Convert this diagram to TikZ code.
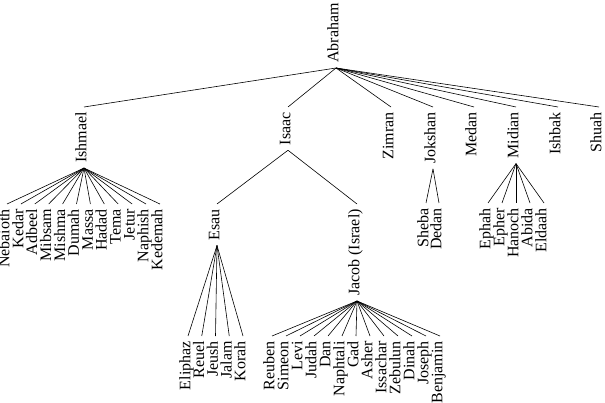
\documentclass[tikz,border=0pt]{standalone}
\usepackage{fontspec}
\setmainfont{Liberation Serif}
\begin{document}
\begin{tikzpicture}[x=1pt,y=-1pt,
  n/.style={rotate=90,anchor=east,inner sep=5pt,text height=0.68em,text depth=0.2em,
            font=\fontsize{16}{17}\selectfont},
  e/.style={line width=0.6pt}]
\useasboundingbox (0,0) rectangle (605,403);
\node[n,anchor=west] (abraham) at (336,68) {Abraham};
\foreach \nm/\x in {Ishmael/84, Isaac/288, Zimran/391, Jokshan/433, Medan/474, Midian/516, Ishbak/558, Shuah/599}{
  \node[n] (\nm) at (\x,107) {\nm};
  \draw[e] (abraham.west) -- (\nm.east);
}
\foreach \nm [count=\i from 0] in {Nebaioth,Kedar,Adbeel,Mibsam,Mishma,Dumah,Massa,Hadad,Tema,Jetur,Naphish,Kedemah}{
  \node[n] (\nm) at ({7+13.9*\i},204) {\nm};
  \draw[e] (Ishmael.west) -- (\nm.east);
}
\node[n] (esau) at (217,204) {Esau};
\node[n] (jacob) at (357,204) {Jacob (Israel)};
\draw[e] (Isaac.west) -- (esau.east);
\draw[e] (Isaac.west) -- (jacob.east);
\foreach \nm/\x in {Sheba/426, Dedan/439}{
  \node[n] (\nm) at (\x,203) {\nm};
  \draw[e] (Jokshan.west) -- (\nm.east);
}
\foreach \nm [count=\i from 0] in {Ephah,Epher,Hanoch,Abida,Eldaah}{
  \node[n] (\nm) at ({488+14*\i},203) {\nm};
  \draw[e] (Midian.west) -- (\nm.east);
}
\foreach \nm [count=\i from 0] in {Eliphaz,Reuel,Jeush,Jalam,Korah}{
  \node[n] (\nm) at ({188+13.75*\i},336) {\nm};
  \draw[e] (esau.west) -- (\nm.east);
}
\foreach \nm [count=\i from 0] in {Reuben,Simeon,Levi,Judah,Dan,Naphtali,Gad,Asher,Issachar,Zebulun,Dinah,Joseph,Benjamin}{
  \node[n] (\nm) at ({272+14*\i},336) {\nm};
  \draw[e] (jacob.west) -- (\nm.east);
}
\end{tikzpicture}
\end{document}
